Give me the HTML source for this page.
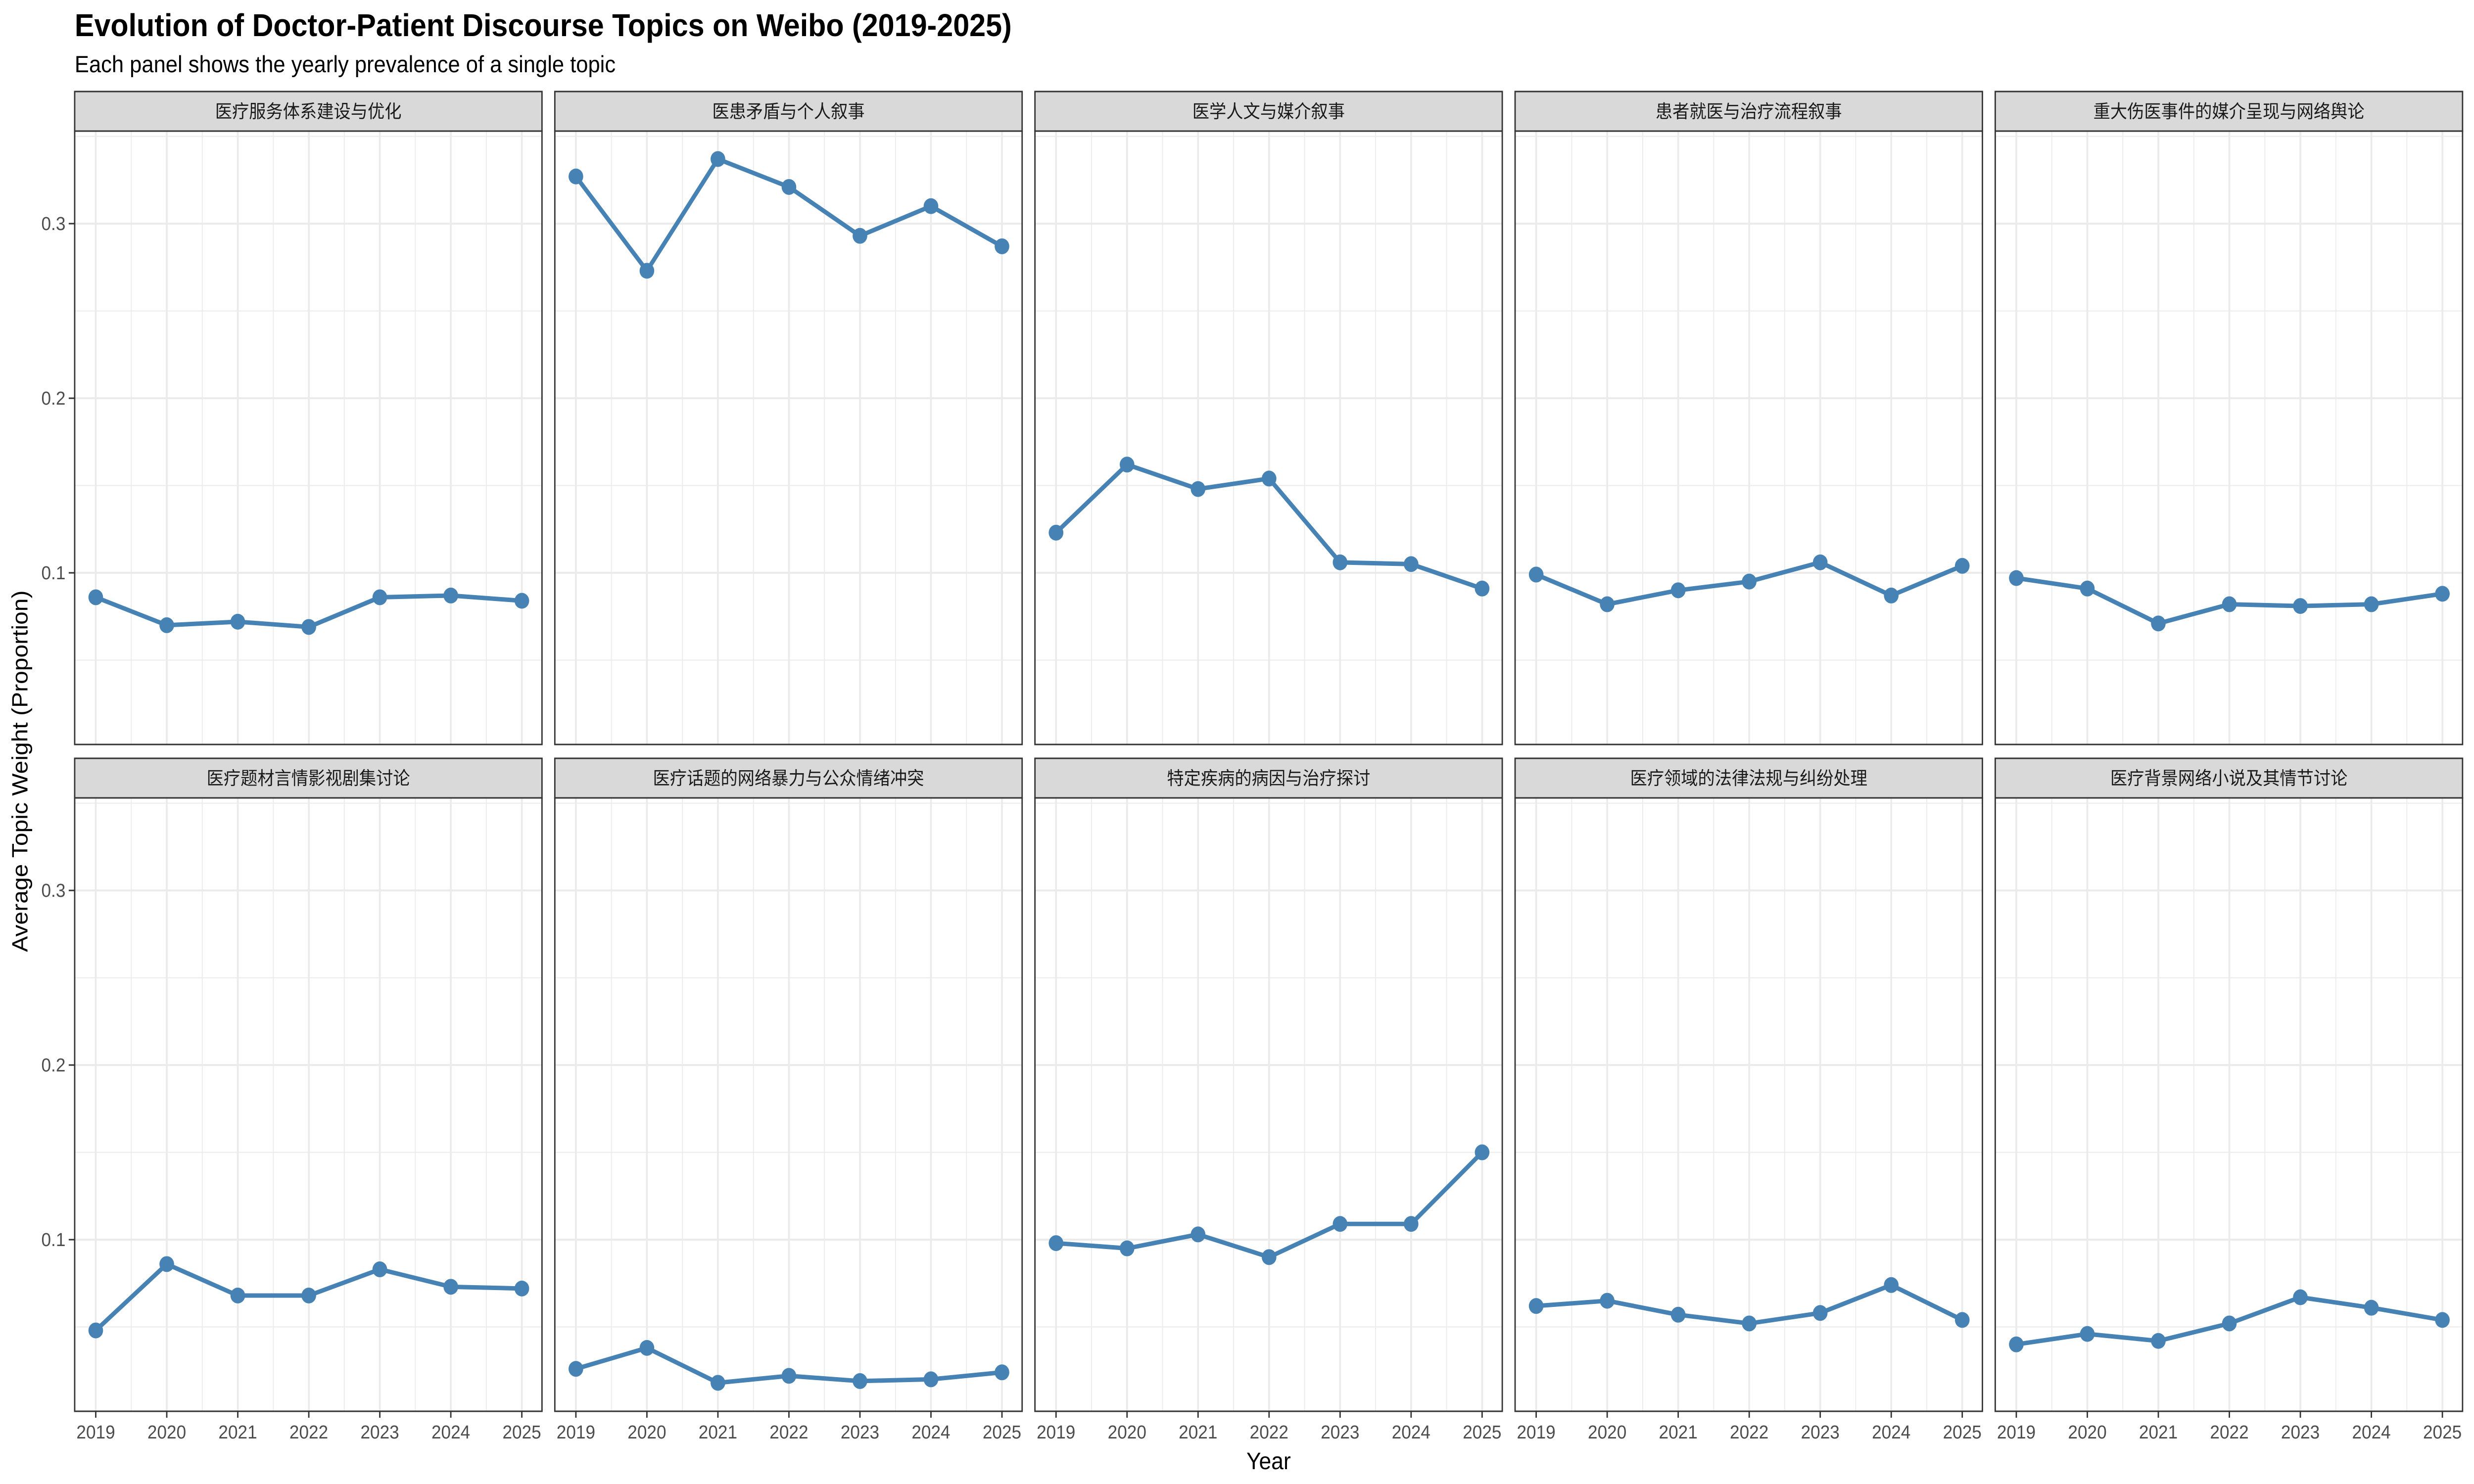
<!DOCTYPE html>
<html><head><meta charset="utf-8"><style>
html,body{margin:0;padding:0;background:#fff;width:100%;height:100%;overflow:hidden;}
svg{display:block;width:100vw;height:100vh;}
svg text{font-family:"Liberation Sans","Noto Sans CJK SC",sans-serif;}
</style></head><body>
<svg id="chart" viewBox="0 0 5400 3000" preserveAspectRatio="none" xmlns="http://www.w3.org/2000/svg">
<rect width="5400" height="3000" fill="#fff"/>
<text x="163" y="73" font-size="64" font-weight="bold" fill="#000">Evolution of Doctor-Patient Discourse Topics on Weibo (2019-2025)</text>
<text x="163" y="146" font-size="47" fill="#000">Each panel shows the yearly prevalence of a single topic</text>
<text x="2769" y="2970" font-size="48" text-anchor="middle" fill="#000">Year</text>
<text transform="translate(60,1559) rotate(-90)" font-size="48" text-anchor="middle" fill="#000">Average Topic Weight (Proportion)</text>
<g id="panels"></g>
</svg>
<script>
const years = [2019, 2020, 2021, 2022, 2023, 2024, 2025];
const topics = ["医疗服务体系建设与优化","医患矛盾与个人叙事","医学人文与媒介叙事","患者就医与治疗流程叙事","重大伤医事件的媒介呈现与网络舆论","医疗题材言情影视剧集讨论","医疗话题的网络暴力与公众情绪冲突","特定疾病的病因与治疗探讨","医疗领域的法律法规与纠纷处理","医疗背景网络小说及其情节讨论"];
const s1 = [0.086,0.070,0.072,0.069,0.086,0.087,0.084];
const s2 = [0.327,0.273,0.337,0.321,0.293,0.310,0.287];
const s3 = [0.123,0.162,0.148,0.154,0.106,0.105,0.091];
const s4 = [0.099,0.082,0.090,0.095,0.106,0.087,0.104];
const s5 = [0.097,0.091,0.071,0.082,0.081,0.082,0.088];
const s6 = [0.048,0.086,0.068,0.068,0.083,0.073,0.072];
const s7 = [0.026,0.038,0.018,0.022,0.019,0.020,0.024];
const s8 = [0.098,0.095,0.103,0.090,0.109,0.109,0.150];
const s9 = [0.062,0.065,0.057,0.052,0.058,0.074,0.054];
const s10 = [0.040,0.046,0.042,0.052,0.067,0.061,0.054];
const yTicks = [0.1, 0.2, 0.3];
const yTickLabels = ["0.1", "0.2", "0.3"];
const series = [s1,s2,s3,s4,s5,s6,s7,s8,s9,s10];

const NS = "http://www.w3.org/2000/svg";
const g = document.getElementById("panels");
const colX = [163,1211,2259,3307,4355], PW = 1020;
const rowStrip = [185,1533], STRIP = 80, PH = 1240;
const yMin = 0.0017, yMax = 0.353;
function mk(tag, attrs, parent){const e=document.createElementNS(NS,tag);for(const k in attrs)e.setAttribute(k,attrs[k]);(parent||g).appendChild(e);return e;}
function xs(px, yr){return px + 46 + (yr - 2019) * 155;}
function ys(py, v){return py + PH - (v - yMin) / (yMax - yMin) * PH;}

series.forEach((vals, i) => {
  const r = Math.floor(i/5), c = i%5;
  const px = colX[c], st = rowStrip[r], py = st + STRIP;
  const pg = mk("g", {});
  
  
  mk("rect",{x:px,y:py,width:PW,height:PH,fill:"#fff"},pg);
  [0.05,0.15,0.25,0.35].forEach(v=>{const y=ys(py,v); if(y>py&&y<py+PH) mk("line",{x1:px,x2:px+PW,y1:y,y2:y,stroke:"#ebebeb","stroke-width":2},pg);});
  for(let k=0;k<6;k++){const x=xs(px,2019.5+k); mk("line",{x1:x,x2:x,y1:py,y2:py+PH,stroke:"#ebebeb","stroke-width":2},pg);}
  yTicks.forEach(v=>{const y=ys(py,v); mk("line",{x1:px,x2:px+PW,y1:y,y2:y,stroke:"#ebebeb","stroke-width":4},pg);});
  years.forEach(yr=>{const x=xs(px,yr); mk("line",{x1:x,x2:x,y1:py,y2:py+PH,stroke:"#ebebeb","stroke-width":4},pg);});
  const pts = vals.map((v,k)=>xs(px,years[k])+","+ys(py,v)).join(" ");
  const pl = mk("polyline",{points:pts,fill:"none",stroke:"#4682B4","stroke-width":9,"stroke-linejoin":"round"},pg);
  
  
  vals.forEach((v,k)=>{
    const cpt = mk("circle",{cx:xs(px,years[k]),cy:ys(py,v),r:16,fill:"#4682B4"},pg);
    
    
  });
  mk("rect",{x:px,y:py,width:PW,height:PH,fill:"none",stroke:"#333","stroke-width":3},pg);
  const sr = mk("rect",{x:px,y:st,width:PW,height:STRIP,fill:"#d9d9d9",stroke:"#333","stroke-width":3},pg);
  
  
  const stx = mk("text",{x:px+PW/2,y:st+53,"font-size":37,"text-anchor":"middle",fill:"#1a1a1a"},pg);
  stx.textContent = topics[i];
  
  
  if(c===0){
    yTicks.forEach((v,k)=>{const y=ys(py,v);
      mk("line",{x1:px-13,x2:px,y1:y,y2:y,stroke:"#333","stroke-width":3},pg);
      const t=mk("text",{x:px-20,y:y+13,"font-size":38,"text-anchor":"end",fill:"#4d4d4d"},pg);
      t.textContent=yTickLabels[k];
      
      
    });
  }
  if(r===1){
    years.forEach(yr=>{const x=xs(px,yr);
      mk("line",{x1:x,x2:x,y1:py+PH,y2:py+PH+13,stroke:"#333","stroke-width":3},pg);
      const t=mk("text",{x:x,y:py+PH+55,"font-size":38,"text-anchor":"middle",fill:"#4d4d4d"},pg);
      t.textContent=yr;
      
      
    });
  }
});
</script>
</body></html>
